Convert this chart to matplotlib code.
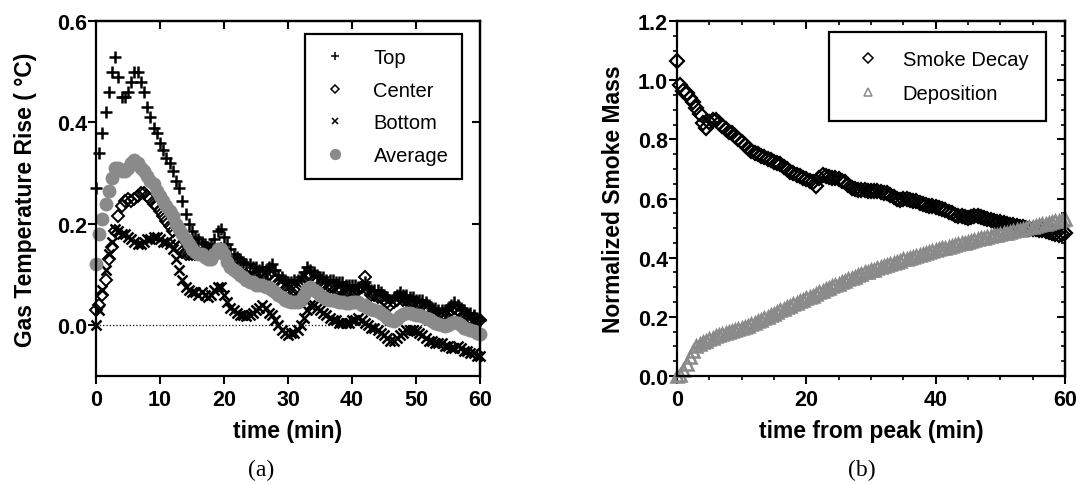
import matplotlib
matplotlib.use('Agg')
import matplotlib.pyplot as plt
import numpy as np
from matplotlib.ticker import MultipleLocator, FormatStrFormatter

plt.rcParams['font.family'] = ['Liberation Sans', 'DejaVu Sans']
plt.rcParams['font.weight'] = 'bold'
plt.rcParams['axes.labelweight'] = 'bold'

GRAY = '#8a8a8a'

# panel (a): gas temperature rise, sampled every 0.5 min from 0 to 60 min
time_a = np.arange(121) * 0.5
top_rise = [
    0.27, 0.34, 0.38, 0.42, 0.46, 0.50, 0.53, 0.49, 0.45, 0.45,
    0.46, 0.48, 0.50, 0.50, 0.48, 0.46, 0.43, 0.41, 0.39, 0.38,
    0.36, 0.345, 0.33, 0.32, 0.305, 0.285, 0.27, 0.245, 0.22, 0.20,
    0.185, 0.175, 0.17, 0.165, 0.16, 0.155, 0.16, 0.17, 0.185, 0.19,
    0.175, 0.16, 0.15, 0.14, 0.135, 0.13, 0.125, 0.12, 0.12, 0.115,
    0.115, 0.11, 0.115, 0.11, 0.115, 0.12, 0.11, 0.10, 0.095, 0.09,
    0.085, 0.085, 0.09, 0.09, 0.095, 0.105, 0.115, 0.11, 0.105, 0.10,
    0.095, 0.095, 0.09, 0.09, 0.09, 0.085, 0.085, 0.085, 0.08, 0.08,
    0.08, 0.08, 0.075, 0.08, 0.085, 0.075, 0.07, 0.07, 0.07, 0.065,
    0.06, 0.055, 0.05, 0.055, 0.06, 0.065, 0.06, 0.06, 0.055, 0.055,
    0.05, 0.05, 0.05, 0.045, 0.04, 0.035, 0.035, 0.03, 0.03, 0.03,
    0.035, 0.04, 0.045, 0.04, 0.035, 0.03, 0.025, 0.025, 0.02, 0.015,
    0.01]
center_rise = [
    0.03, 0.04, 0.06, 0.09, 0.13, 0.155, 0.185, 0.215, 0.235, 0.245,
    0.25, 0.245, 0.25, 0.255, 0.26, 0.26, 0.255, 0.25, 0.24, 0.235,
    0.225, 0.215, 0.205, 0.195, 0.185, 0.17, 0.155, 0.145, 0.14, 0.14,
    0.14, 0.14, 0.145, 0.14, 0.135, 0.13, 0.13, 0.135, 0.145, 0.15,
    0.14, 0.13, 0.12, 0.115, 0.11, 0.105, 0.10, 0.10, 0.095, 0.095,
    0.095, 0.09, 0.095, 0.095, 0.10, 0.095, 0.09, 0.08, 0.075, 0.07,
    0.07, 0.065, 0.07, 0.07, 0.08, 0.09, 0.095, 0.095, 0.09, 0.085,
    0.08, 0.08, 0.075, 0.075, 0.075, 0.07, 0.07, 0.07, 0.065, 0.065,
    0.065, 0.065, 0.07, 0.075, 0.095, 0.07, 0.06, 0.06, 0.055, 0.055,
    0.05, 0.045, 0.04, 0.045, 0.05, 0.055, 0.05, 0.05, 0.045, 0.045,
    0.04, 0.04, 0.04, 0.035, 0.03, 0.025, 0.025, 0.02, 0.02, 0.02,
    0.025, 0.03, 0.035, 0.03, 0.025, 0.02, 0.02, 0.015, 0.015, 0.01,
    0.01]
bottom_rise = [
    0.0, 0.03, 0.07, 0.11, 0.14, 0.165, 0.19, 0.185, 0.18, 0.18,
    0.175, 0.17, 0.165, 0.16, 0.16, 0.165, 0.17, 0.17, 0.175, 0.175,
    0.17, 0.165, 0.165, 0.16, 0.15, 0.13, 0.11, 0.09, 0.075, 0.07,
    0.065, 0.065, 0.06, 0.065, 0.06, 0.055, 0.06, 0.07, 0.075, 0.075,
    0.06, 0.045, 0.035, 0.03, 0.025, 0.02, 0.02, 0.018, 0.02, 0.025,
    0.03, 0.035, 0.04, 0.035, 0.025, 0.02, 0.01, 0.0, -0.01, -0.015,
    -0.02, -0.015, -0.015, -0.01, 0.0, 0.015, 0.03, 0.04, 0.04, 0.035,
    0.03, 0.025, 0.02, 0.015, 0.01, 0.01, 0.005, 0.005, 0.005, 0.005,
    0.01, 0.01, 0.015, 0.01, 0.005, 0.0, -0.005, -0.005, -0.01, -0.015,
    -0.02, -0.025, -0.03, -0.03, -0.025, -0.02, -0.015, -0.01, -0.01, -0.01,
    -0.012, -0.015, -0.02, -0.025, -0.03, -0.03, -0.035, -0.035, -0.035, -0.04,
    -0.04, -0.045, -0.045, -0.04, -0.045, -0.05, -0.05, -0.055, -0.055, -0.06,
    -0.06]
average_rise = [
    0.12, 0.18, 0.21, 0.24, 0.265, 0.29, 0.31, 0.31, 0.305, 0.305,
    0.31, 0.32, 0.325, 0.32, 0.31, 0.305, 0.295, 0.285, 0.278, 0.265,
    0.255, 0.245, 0.235, 0.225, 0.215, 0.20, 0.19, 0.18, 0.17, 0.16,
    0.15, 0.145, 0.14, 0.14, 0.135, 0.13, 0.13, 0.14, 0.15, 0.15,
    0.14, 0.125, 0.115, 0.11, 0.105, 0.10, 0.095, 0.09, 0.085, 0.085,
    0.08, 0.08, 0.08, 0.075, 0.075, 0.07, 0.065, 0.06, 0.055, 0.05,
    0.048, 0.045, 0.045, 0.045, 0.05, 0.06, 0.072, 0.075, 0.07, 0.065,
    0.06, 0.055, 0.052, 0.05, 0.05, 0.048, 0.046, 0.045, 0.044, 0.044,
    0.045, 0.045, 0.045, 0.04, 0.04, 0.035, 0.032, 0.03, 0.028, 0.025,
    0.02, 0.015, 0.01, 0.008, 0.012, 0.018, 0.022, 0.024, 0.024, 0.022,
    0.02, 0.02, 0.018, 0.015, 0.012, 0.008, 0.005, 0.002, 0.0, -0.002,
    0.0, 0.004, 0.006, 0.004, 0.0, -0.005, -0.008, -0.01, -0.012, -0.015,
    -0.017]

# panel (b): normalized smoke mass, sampled every 0.5 min from 0 to 60 min
time_b = np.arange(121) * 0.5
smoke_decay = [
    1.065, 0.985, 0.965, 0.955, 0.94, 0.925, 0.905, 0.885, 0.855, 0.84,
    0.86, 0.865, 0.865, 0.855, 0.845, 0.835, 0.825, 0.82, 0.81, 0.80,
    0.79, 0.78, 0.77, 0.762, 0.755, 0.75, 0.745, 0.74, 0.735, 0.73,
    0.725, 0.72, 0.715, 0.705, 0.70, 0.69, 0.685, 0.68, 0.675, 0.67,
    0.665, 0.66, 0.655, 0.643, 0.67, 0.678, 0.675, 0.672, 0.67, 0.668,
    0.665, 0.66, 0.655, 0.645, 0.635, 0.632, 0.63, 0.63, 0.628, 0.627,
    0.625, 0.626, 0.625, 0.622, 0.62, 0.618, 0.612, 0.605, 0.598, 0.595,
    0.597, 0.598, 0.595, 0.592, 0.59, 0.585, 0.58, 0.578, 0.575, 0.573,
    0.57, 0.568, 0.565, 0.56, 0.555, 0.55, 0.545, 0.542, 0.54, 0.536,
    0.535, 0.538, 0.54, 0.54, 0.538, 0.534, 0.53, 0.527, 0.525, 0.522,
    0.52, 0.517, 0.515, 0.512, 0.51, 0.507, 0.505, 0.502, 0.50, 0.498,
    0.497, 0.496, 0.495, 0.492, 0.49, 0.486, 0.482, 0.48, 0.478, 0.48,
    0.485]
deposition = [
    0.0, 0.005, 0.02, 0.04, 0.065, 0.085, 0.10, 0.108, 0.115, 0.12,
    0.125, 0.13, 0.135, 0.138, 0.142, 0.146, 0.15, 0.152, 0.155, 0.158,
    0.162, 0.166, 0.17, 0.175, 0.18, 0.185, 0.19, 0.195, 0.20, 0.205,
    0.21, 0.216, 0.222, 0.227, 0.232, 0.237, 0.242, 0.247, 0.252, 0.257,
    0.262, 0.267, 0.272, 0.278, 0.283, 0.288, 0.293, 0.298, 0.303, 0.308,
    0.312, 0.317, 0.322, 0.327, 0.332, 0.336, 0.34, 0.345, 0.35, 0.353,
    0.357, 0.36, 0.364, 0.368, 0.372, 0.376, 0.38, 0.383, 0.387, 0.39,
    0.394, 0.397, 0.40, 0.403, 0.407, 0.41, 0.413, 0.416, 0.419, 0.422,
    0.425, 0.428, 0.431, 0.434, 0.437, 0.44, 0.443, 0.445, 0.448, 0.451,
    0.454, 0.457, 0.46, 0.462, 0.465, 0.468, 0.47, 0.473, 0.475, 0.478,
    0.48, 0.483, 0.485, 0.488, 0.49, 0.493, 0.495, 0.498, 0.50, 0.503,
    0.505, 0.508, 0.51, 0.513, 0.515, 0.518, 0.52, 0.523, 0.525, 0.528,
    0.53]

xticks_a = [0, 10, 20, 30, 40, 50, 60]
yticks_a = [0.0, 0.2, 0.4, 0.6]
xticks_b = [0, 20, 40, 60]
yticks_b = [0.0, 0.2, 0.4, 0.6, 0.8, 1.0, 1.2]


def style_axes(ax, xticks, yticks, xminor=None, yminor=None):
    for sp in ax.spines.values():
        sp.set_linewidth(1.6)
    ax.set_xticks(xticks)
    ax.set_yticks(yticks)
    ax.yaxis.set_major_formatter(FormatStrFormatter('%.1f'))
    if xminor:
        ax.xaxis.set_minor_locator(MultipleLocator(xminor))
    if yminor:
        ax.yaxis.set_minor_locator(MultipleLocator(yminor))
    ax.tick_params(which='major', direction='out', length=5.5, width=1.5,
                   labelsize=15.5, pad=1)
    ax.tick_params(which='minor', direction='out', length=3, width=1.2)
    ax.tick_params(axis='x', which='major', pad=4)
    # inward ticks on the top and right spines
    top = ax.secondary_xaxis('top')
    top.set_xticks(xticks)
    right = ax.secondary_yaxis('right')
    right.set_yticks(yticks)
    if xminor:
        top.xaxis.set_minor_locator(MultipleLocator(xminor))
    if yminor:
        right.yaxis.set_minor_locator(MultipleLocator(yminor))
    top.tick_params(which='major', direction='in', length=5.5, width=1.5, labeltop=False)
    top.tick_params(which='minor', direction='in', length=3, width=1.2)
    right.tick_params(which='major', direction='in', length=5.5, width=1.5, labelright=False)
    right.tick_params(which='minor', direction='in', length=3, width=1.2)
    top.spines['top'].set_linewidth(1.6)
    right.spines['right'].set_linewidth(1.6)


fig = plt.figure(figsize=(10.76, 4.85), dpi=100)
ax_a = fig.add_axes([96/1076, 1-377/485, 384/1076, 355/485])
ax_b = fig.add_axes([677/1076, 1-377/485, 388/1076, 355/485])

# ---- panel (a)
ax_a.axhline(0, color='black', ls=':', lw=0.9, zorder=1)
ax_a.plot(time_a, top_rise, ls='none', marker='+', ms=9, mew=1.8, color='black',
          label='Top', clip_on=False)
ax_a.plot(time_a, center_rise, ls='none', marker='D', ms=6.5, mew=1.4, mec='black',
          mfc='none', label='Center', clip_on=False)
ax_a.plot(time_a, bottom_rise, ls='none', marker='x', ms=7, mew=1.8, color='black',
          label='Bottom', clip_on=False)
ax_a.plot(time_a, average_rise, ls='none', marker='o', ms=10, mew=0, color=GRAY,
          label='Average', clip_on=False)
ax_a.set_xlim(0, 60)
ax_a.set_ylim(-0.1, 0.6)
style_axes(ax_a, xticks_a, yticks_a)
ax_a.set_xlabel('time (min)', fontsize=16.5, fontweight='bold')
ax_a.set_ylabel('Gas Temperature Rise ( °C)', fontsize=16.5, fontweight='bold')
ax_a.xaxis.set_label_coords(0.5, (377-420)/355)
ax_a.yaxis.set_label_coords((37-96)/384, 0.5)

leg_a = ax_a.legend(loc='upper left', bbox_to_anchor=(305/1076, 1-35/485),
                    bbox_transform=fig.transFigure, fancybox=False, framealpha=1,
                    edgecolor='black', borderaxespad=0, borderpad=0.7,
                    handlelength=1.6, handletextpad=1.1, labelspacing=0.67,
                    markerscale=0.7, prop={'size': 14.5, 'weight': 'normal'})
leg_a.get_frame().set_linewidth(1.6)
for h in leg_a.legend_handles:
    h.set_markeredgewidth(1.1)

# ---- panel (b)
ax_b.plot(time_b, smoke_decay, ls='none', marker='D', ms=7, mew=1.6, mec='black',
          mfc='none', label='Smoke Decay', clip_on=False)
ax_b.plot(time_b, deposition, ls='none', marker='^', ms=8, mew=1.8, mec=GRAY,
          mfc='none', label='Deposition', clip_on=False)
ax_b.set_xlim(0, 60)
ax_b.set_ylim(0, 1.2)
style_axes(ax_b, xticks_b, yticks_b, xminor=5, yminor=0.05)
ax_b.set_xlabel('time from peak (min)', fontsize=16.5, fontweight='bold')
ax_b.set_ylabel('Normalized Smoke Mass', fontsize=16.5, fontweight='bold')
ax_b.xaxis.set_label_coords(0.5, (377-420)/355)
ax_b.yaxis.set_label_coords((625-677)/388, 0.5)

leg_b = ax_b.legend(loc='upper left', bbox_to_anchor=(829/1076, 1-33/485),
                    bbox_transform=fig.transFigure, fancybox=False, framealpha=1,
                    edgecolor='black', borderaxespad=0, borderpad=0.9,
                    handlelength=2.1, handletextpad=0.65, labelspacing=0.73,
                    markerscale=0.7, prop={'size': 14.5, 'weight': 'normal'})
leg_b.get_frame().set_linewidth(1.6)
for h in leg_b.legend_handles:
    h.set_markeredgewidth(1.1)

fig.text(261/1076, 1-470/485, '(a)', ha='center', va='center',
         family='Liberation Serif', fontsize=17, weight='normal')
fig.text(862/1076, 1-470/485, '(b)', ha='center', va='center',
         family='Liberation Serif', fontsize=17, weight='normal')

fig.savefig('out.png', dpi=100)
